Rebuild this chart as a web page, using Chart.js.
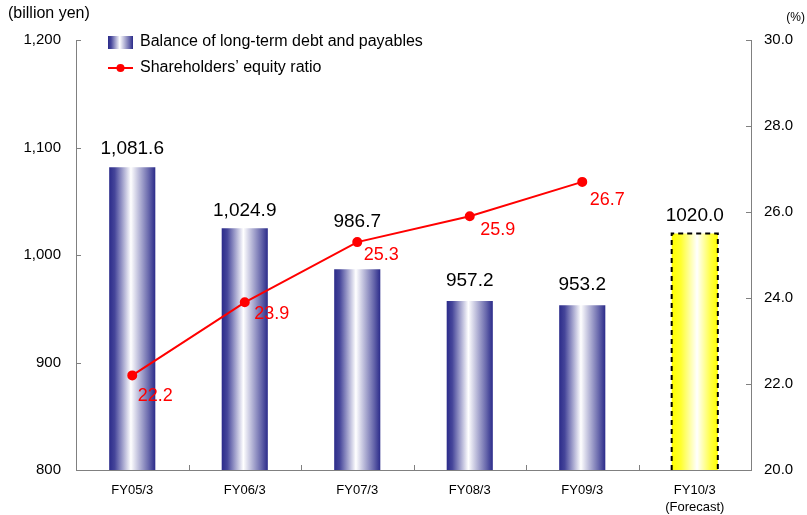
<!DOCTYPE html>
<html><head><meta charset="utf-8">
<script src="https://cdn.jsdelivr.net/npm/chart.js@4"></script>
<style>html,body{margin:0;padding:0;background:#fff}#wrap{width:807px;height:515px;position:relative}</style>
</head><body><div id="wrap"><canvas id="c" width="807" height="515"></canvas></div>
<script>
const categories = ['FY05/3','FY06/3','FY07/3','FY08/3','FY09/3',['FY10/3','(Forecast)']];
const debtBalance = [1081.6,1024.9,986.7,957.2,953.2,1020.0];
const debtLabels = ['1,081.6','1,024.9','986.7','957.2','953.2','1020.0'];
const equityRatio = [22.2,23.9,25.3,25.9,26.7];
const equityLabels = ['22.2','23.9','25.3','25.9','26.7'];
const leftTicks = [800,900,1000,1100,1200];
const leftTickLabels = ['800','900','1,000','1,100','1,200'];
const rightTicks = [20,22,24,26,28,30];
const rightTickLabels = ['20.0','22.0','24.0','26.0','28.0','30.0'];
const seriesNames = ['Balance of long-term debt and payables','Shareholders\u2019 equity ratio'];
const leftUnit = '(billion yen)';
const rightUnit = '(%)';
const forecastIndex = 5;

// styling
const FONT = "'Liberation Sans', Arial, sans-serif";
const BAR_PCT = 0.41;
const AXIS_COLOR = '#808080';
const barLabelOffsets = [-19,-17,-48,-20,-21,-18];
const lineLabelOffsets = [[23,21],[27,12],[24,13],[28,14],[25,18]];

function gradFor(ctx2d, x0, x1, forecast){
  const g = ctx2d.createLinearGradient(x0,0,x1,0);
  if(forecast){
    g.addColorStop(0,'#ffff00');
    g.addColorStop(0.2,'#ffff30');
    g.addColorStop(0.55,'#ffffff');
    g.addColorStop(0.85,'#ffff40');
    g.addColorStop(1,'#ffff00');
  } else {
    g.addColorStop(0,'#2b2b8a');
    g.addColorStop(0.12,'#45459a');
    g.addColorStop(0.47,'#ffffff');
    g.addColorStop(0.85,'#6a6aad');
    g.addColorStop(1,'#2b2b8a');
  }
  return g;
}

function barFill(ctx){
  const chart = ctx.chart; const xs = chart.scales.x;
  if(!xs || ctx.type !== 'data' || !isFinite(xs.left)) return '#333399';
  const cx = xs.getPixelForValue(ctx.dataIndex);
  const w = (xs.right - xs.left)/categories.length*BAR_PCT;
  return gradFor(chart.ctx, cx-w/2, cx+w/2, ctx.dataIndex===forecastIndex);
}

const extras = {
  id:'extras',
  afterDatasetDraw(chart, args){
    if(args.index!==0) return;
    const el = chart.getDatasetMeta(0).data[forecastIndex];
    if(!el) return;
    const c = chart.ctx; const a = chart.chartArea;
    c.save();
    c.strokeStyle = '#000'; c.lineWidth = 2; c.setLineDash([5,4]);
    const l = el.x - el.width/2, r = el.x + el.width/2;
    const b = a.bottom;
    c.beginPath();
    c.moveTo(l, b); c.lineTo(l, el.y); c.lineTo(r, el.y); c.lineTo(r, b);
    c.stroke();
    c.restore();
  },
  afterDraw(chart){
    const c = chart.ctx; const a = chart.chartArea;
    const y = chart.scales.y, y1 = chart.scales.y1;
    c.save();
    // inward ticks
    c.strokeStyle = AXIS_COLOR; c.lineWidth = 1;
    c.beginPath();
    leftTicks.forEach(v=>{ const py = Math.round(y.getPixelForValue(v))+0.5; c.moveTo(a.left, py); c.lineTo(a.left+5, py); });
    rightTicks.forEach(v=>{ const py = Math.round(y1.getPixelForValue(v))+0.5; c.moveTo(a.right-5, py); c.lineTo(a.right, py); });
    const cw = (a.right-a.left)/categories.length;
    for(let k=1;k<categories.length;k++){ const px = Math.round(a.left+cw*k)+0.5; c.moveTo(px, a.bottom); c.lineTo(px, a.bottom-5); }
    c.stroke();
    // units
    c.fillStyle = '#000'; c.textBaseline = 'middle';
    c.font = '16px ' + FONT; c.textAlign = 'left';
    c.fillText(leftUnit, 8, 14);
    c.font = '12px ' + FONT; c.textAlign = 'right';
    c.fillText(rightUnit, 805, 18);
    // bar value labels
    c.font = '19px ' + FONT; c.textAlign = 'center';
    chart.getDatasetMeta(0).data.forEach((el,i)=>{ c.fillText(debtLabels[i], el.x, el.y+barLabelOffsets[i]); });
    // line labels
    c.font = '18px ' + FONT; c.fillStyle = '#ff0000';
    chart.getDatasetMeta(1).data.forEach((el,i)=>{ const o = lineLabelOffsets[i]; c.fillText(equityLabels[i], el.x+o[0], el.y+o[1]); });
    // legend
    const lx = 108;
    c.fillStyle = gradFor(c, lx, lx+25, false);
    c.fillRect(lx, 36, 25, 13);
    c.strokeStyle = '#ff0000'; c.lineWidth = 2;
    c.beginPath(); c.moveTo(lx, 68); c.lineTo(lx+25, 68); c.stroke();
    c.fillStyle = '#ff0000'; c.beginPath(); c.arc(lx+12.5, 68, 4, 0, Math.PI*2); c.fill();
    c.fillStyle = '#000'; c.font = '16px ' + FONT; c.textAlign = 'left';
    c.fillText(seriesNames[0], 140, 42);
    c.fillText(seriesNames[1], 140, 68);
    c.restore();
  }
};

new Chart(document.getElementById('c'), {
  data: {
    labels: categories,
    datasets: [
      { type:'bar', label: seriesNames[0], data: debtBalance, yAxisID:'y', order:2,
        backgroundColor: barFill, borderWidth:0, barPercentage: BAR_PCT, categoryPercentage:1 },
      { type:'line', label: seriesNames[1], data: equityRatio, yAxisID:'y1', order:1,
        borderColor:'#ff0000', backgroundColor:'#ff0000', borderWidth:2, pointRadius:4,
        pointBackgroundColor:'#ff0000', pointBorderColor:'#ff0000', tension:0 }
    ]
  },
  options: {
    responsive:false, animation:false, devicePixelRatio:1,
    layout:{ padding:{ top:40, left:0, right:0, bottom:0 } },
    plugins:{ legend:{display:false}, tooltip:{enabled:false} },
    scales:{
      x:{ grid:{display:false, drawTicks:false}, border:{display:true,color:AXIS_COLOR,width:1},
          ticks:{ color:'#000', font:{family:FONT,size:13,lineHeight:1.3}, padding:12, maxRotation:0, autoSkip:false },
          afterFit(s){ s.height = 45; } },
      y:{ position:'left', min:800, max:1200,
          grid:{display:false, drawTicks:false}, border:{display:true,color:AXIS_COLOR,width:1},
          afterBuildTicks(s){ s.ticks = leftTicks.map(v=>({value:v})); },
          ticks:{ color:'#000', font:{family:FONT,size:15}, padding:15,
                  callback:(v)=>{ const i = leftTicks.indexOf(v); return i>=0 ? leftTickLabels[i] : ''; } },
          afterFit(s){ s.width = 76; } },
      y1:{ position:'right', min:20, max:30,
          grid:{display:false, drawTicks:false}, border:{display:true,color:AXIS_COLOR,width:1},
          afterBuildTicks(s){ s.ticks = rightTicks.map(v=>({value:v})); },
          ticks:{ color:'#000', font:{family:FONT,size:15}, padding:13,
                  callback:(v)=>{ const i = rightTicks.indexOf(v); return i>=0 ? rightTickLabels[i] : ''; } },
          afterFit(s){ s.width = 56; } }
    }
  },
  plugins:[extras]
});
</script></body></html>
